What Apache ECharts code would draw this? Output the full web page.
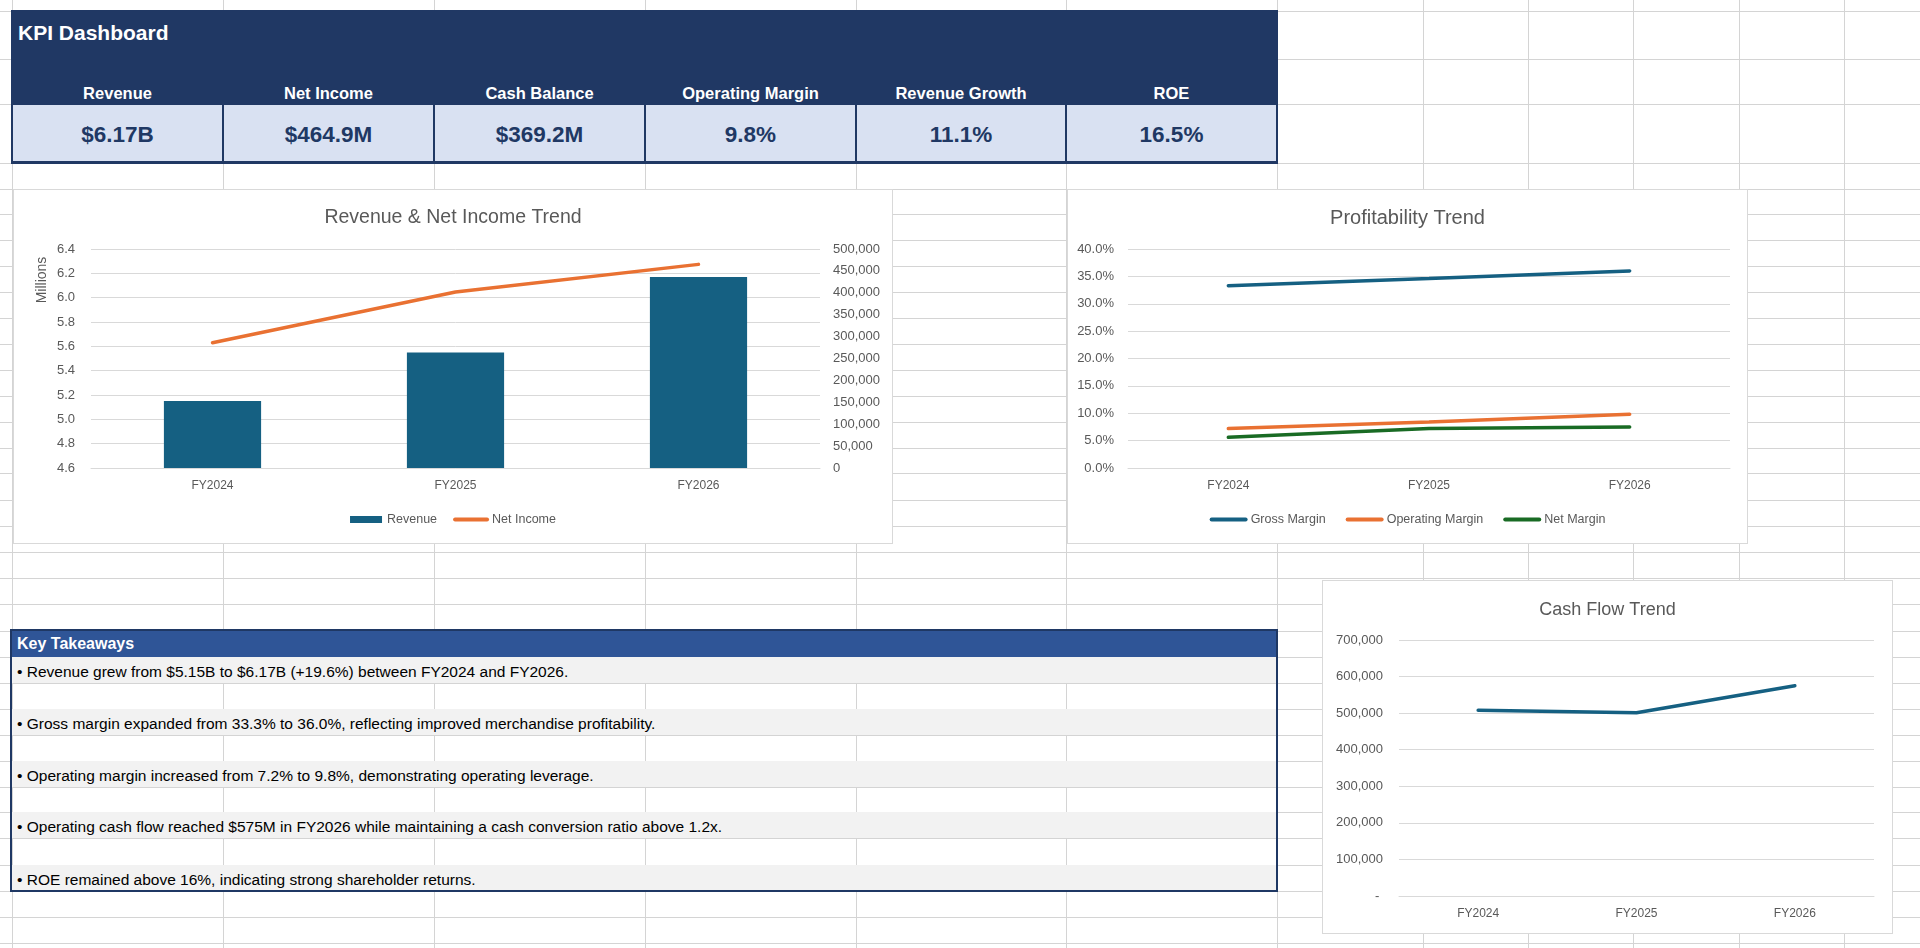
<!DOCTYPE html>
<html>
<head>
<meta charset="utf-8">
<title>KPI Dashboard</title>
<script src="https://cdn.jsdelivr.net/npm/echarts@6/dist/echarts.min.js"></script>
<style>
  html, body { margin: 0; padding: 0; background: #fff; }
  body { width: 1920px; height: 948px; position: relative; overflow: hidden; font-family: "Liberation Sans", Arial, sans-serif; }
  .gl { position: absolute; background: #d4d4d4; }
  .abs { position: absolute; box-sizing: border-box; }
  .chart { position: absolute; box-sizing: border-box; border: 1px solid #d9d9d9; background: #fff; }
  #kpiHead { background: #203864; }
  .kpiTitle { color: #fff; font-weight: bold; font-size: 21px; line-height: 26px; }
  .kpiLabel { color: #fff; font-weight: bold; font-size: 16.5px; line-height: 20px; text-align: center; }
  .kpiCell { background: #d9e1f2; }
  .kpiValue { color: #203864; font-weight: bold; font-size: 22.5px; line-height: 26px; text-align: center; }
  #take { border: 2px solid #1f3864; }
  .takeHead { background: #2f5597; color: #fff; font-weight: bold; font-size: 16px; line-height: 26px; padding-left: 5px; }
  .takeRow { background: #f2f2f2; color: #000; font-size: 15.5px; line-height: 26px; padding-left: 5px; padding-top: 2px; white-space: nowrap; }
</style>
</head>
<body>
<div id="sheet"></div>
<div id="kpi"></div>
<div id="c1" class="chart" style="left:13px;top:189px;width:880px;height:355px;"></div>
<div id="c2" class="chart" style="left:1067px;top:189px;width:681px;height:355px;"></div>
<div id="take" class="abs" style="left:10px;top:629px;width:1268px;height:263px;"></div>
<div id="c3" class="chart" style="left:1322px;top:580px;width:571px;height:354px;"></div>
<script>
// ---- data ----
const years = ['FY2024', 'FY2025', 'FY2026'];
const revenue = [5.15, 5.55, 6.17];            // millions (sheet in thousands)
const netIncome = [286000, 402000, 464900];
const grossMargin = [0.333, 0.346, 0.360];
const operatingMargin = [0.072, 0.084, 0.098];
const netMargin = [0.056, 0.072, 0.075];
const cashFlow = [508000, 501000, 575000];

const kpiLabels = ['Revenue', 'Net Income', 'Cash Balance', 'Operating Margin', 'Revenue Growth', 'ROE'];
const kpiValues = ['$6.17B', '$464.9M', '$369.2M', '9.8%', '11.1%', '16.5%'];

const takeaways = [
  '• Revenue grew from $5.15B to $6.17B (+19.6%) between FY2024 and FY2026.',
  '• Gross margin expanded from 33.3% to 36.0%, reflecting improved merchandise profitability.',
  '• Operating margin increased from 7.2% to 9.8%, demonstrating operating leverage.',
  '• Operating cash flow reached $575M in FY2026 while maintaining a cash conversion ratio above 1.2x.',
  '• ROE remained above 16%, indicating strong shareholder returns.'
];

// ---- sheet grid ----
const cols = [12, 223, 434, 645, 856, 1066, 1277, 1423, 1528, 1633, 1739, 1844];
const rows = [11, 59, 104, 163, 189, 214, 240, 266, 292, 318, 344, 370, 396, 422, 448, 473, 500, 526, 552, 578,
  604, 631, 657, 683, 709, 735, 761, 787, 812, 838, 865, 891, 917, 943];

const sheet = document.getElementById('sheet');
cols.forEach((x) => {
  const d = document.createElement('div');
  d.className = 'gl';
  d.style.cssText = `left:${x}px;top:0;width:1px;height:948px;`;
  sheet.appendChild(d);
});
rows.forEach((y) => {
  const d = document.createElement('div');
  d.className = 'gl';
  d.style.cssText = `left:0;top:${y}px;width:1920px;height:1px;`;
  sheet.appendChild(d);
});

// ---- KPI block ----
const kpi = document.getElementById('kpi');
let html = `<div id="kpiHead" class="abs" style="left:11px;top:10px;width:1267px;height:95px;"></div>`;
html += `<div class="abs kpiTitle" style="left:18px;top:20px;">KPI Dashboard</div>`;
html += `<div class="abs" style="left:11px;top:103px;width:1267px;height:61px;background:#203864;"></div>`;
kpiLabels.forEach((lab, i) => {
  const x0 = cols[i], x1 = cols[i + 1];
  html += `<div class="abs kpiLabel" style="left:${x0}px;top:83px;width:${x1 - x0}px;">${lab}</div>`;
  html += `<div class="abs kpiCell" style="left:${x0 + 1}px;top:105px;width:${x1 - x0 - 2}px;height:56px;"></div>`;
  html += `<div class="abs kpiValue" style="left:${x0}px;top:122px;width:${x1 - x0}px;">${kpiValues[i]}</div>`;
});
kpi.innerHTML = html;

// ---- Key Takeaways ----
const take = document.getElementById('take');
let th = `<div class="abs takeHead" style="left:0;top:0;width:1264px;height:27px;">Key Takeaways</div>`;
const grayTops = [26, 78, 130, 181, 234];
takeaways.forEach((t, i) => {
  const h = i === 4 ? 25 : 26;
  th += `<div class="abs takeRow" style="left:0;top:${grayTops[i]}px;width:1264px;height:${h}px;">${t}</div>`;
});
take.innerHTML = th;

// ---- charts ----
const FONT = 'Liberation Sans';
const GREY = '#595959';
const GRID = '#d9d9d9';
const titleStyle = (size) => ({ color: GREY, fontSize: size, fontWeight: 'normal', fontFamily: FONT });
const tick = { color: GREY, fontSize: 13, fontFamily: FONT };
const xLab = { color: GREY, fontSize: 12, fontFamily: FONT, margin: 12 };
const legendText = { color: GREY, fontSize: 12.5, fontFamily: FONT };
// legend entry for a line series: plain thick line, no marker dot
const lineLegend = (name) => ({ name, itemStyle: { opacity: 0 }, lineStyle: { width: 4, cap: 'round' } });

const chart1 = echarts.init(document.getElementById('c1'));
chart1.setOption({
  animation: false,
  title: { text: 'Revenue & Net Income Trend', left: 'center', top: 13, textStyle: titleStyle(19.5) },
  legend: {
    top: 318, left: 'center', itemWidth: 32, itemHeight: 7, itemGap: 16, textStyle: legendText,
    data: [{ name: 'Revenue', icon: 'rect' }, lineLegend('Net Income')]
  },
  grid: { left: 77, right: 72, top: 59, bottom: 75 },
  xAxis: {
    type: 'category', data: years,
    axisLine: { lineStyle: { color: GRID } }, axisTick: { show: false }, axisLabel: xLab
  },
  yAxis: [
    {
      type: 'value', min: 4.6, max: 6.4, interval: 0.2,
      axisLabel: { ...tick, margin: 16, formatter: (v) => v.toFixed(1) },
      splitLine: { lineStyle: { color: GRID } }
    },
    {
      type: 'value', min: 0, max: 500000, interval: 50000, position: 'right',
      axisLabel: { ...tick, margin: 13, formatter: (v) => v.toLocaleString('en-US') },
      splitLine: { show: false }
    }
  ],
  series: [
    { name: 'Revenue', type: 'bar', data: revenue, barWidth: '40%', itemStyle: { color: '#156082' } },
    {
      name: 'Net Income', type: 'line', yAxisIndex: 1, data: netIncome, symbol: 'none',
      lineStyle: { color: '#E97132', width: 3.5, cap: 'round' }, itemStyle: { color: '#E97132' }
    }
  ],
  graphic: [{
    type: 'text', x: 28, y: 90, rotation: Math.PI / 2,
    style: { text: 'Millions', fill: GREY, font: '14px "Liberation Sans"', textAlign: 'center', textVerticalAlign: 'middle' }
  }]
});

const chart2 = echarts.init(document.getElementById('c2'));
const lineS = (name, data, color) => ({
  name, type: 'line', data, symbol: 'none',
  lineStyle: { color, width: 3.5, cap: 'round' }, itemStyle: { color }
});
chart2.setOption({
  animation: false,
  title: { text: 'Profitability Trend', left: 'center', top: 13, textStyle: titleStyle(20) },
  legend: {
    top: 318, left: 'center', itemWidth: 34, itemHeight: 7, itemGap: 20, textStyle: legendText,
    data: [lineLegend('Gross Margin'), lineLegend('Operating Margin'), lineLegend('Net Margin')]
  },
  grid: { left: 60, right: 17, top: 59, bottom: 75 },
  xAxis: {
    type: 'category', data: years,
    axisLine: { lineStyle: { color: GRID } }, axisTick: { show: false }, axisLabel: xLab
  },
  yAxis: {
    type: 'value', min: 0, max: 0.4, interval: 0.05,
    axisLabel: { ...tick, margin: 14, formatter: (v) => (v * 100).toFixed(1) + '%' },
    splitLine: { lineStyle: { color: GRID } }
  },
  series: [
    lineS('Gross Margin', grossMargin, '#156082'),
    lineS('Operating Margin', operatingMargin, '#E97132'),
    lineS('Net Margin', netMargin, '#196B24')
  ]
});

const chart3 = echarts.init(document.getElementById('c3'));
chart3.setOption({
  animation: false,
  title: { text: 'Cash Flow Trend', left: 'center', top: 15, textStyle: titleStyle(18) },
  grid: { left: 76, right: 18, top: 59, bottom: 37 },
  xAxis: {
    type: 'category', data: years,
    axisLine: { lineStyle: { color: GRID } }, axisTick: { show: false }, axisLabel: xLab
  },
  yAxis: {
    type: 'value', min: 0, max: 700000, interval: 100000,
    axisLabel: { ...tick, margin: 16, formatter: (v) => (v === 0 ? '- ' : v.toLocaleString('en-US')) },
    splitLine: { lineStyle: { color: GRID } }
  },
  series: [lineS('Operating Cash Flow', cashFlow, '#156082')]
});
</script>
</body>
</html>
